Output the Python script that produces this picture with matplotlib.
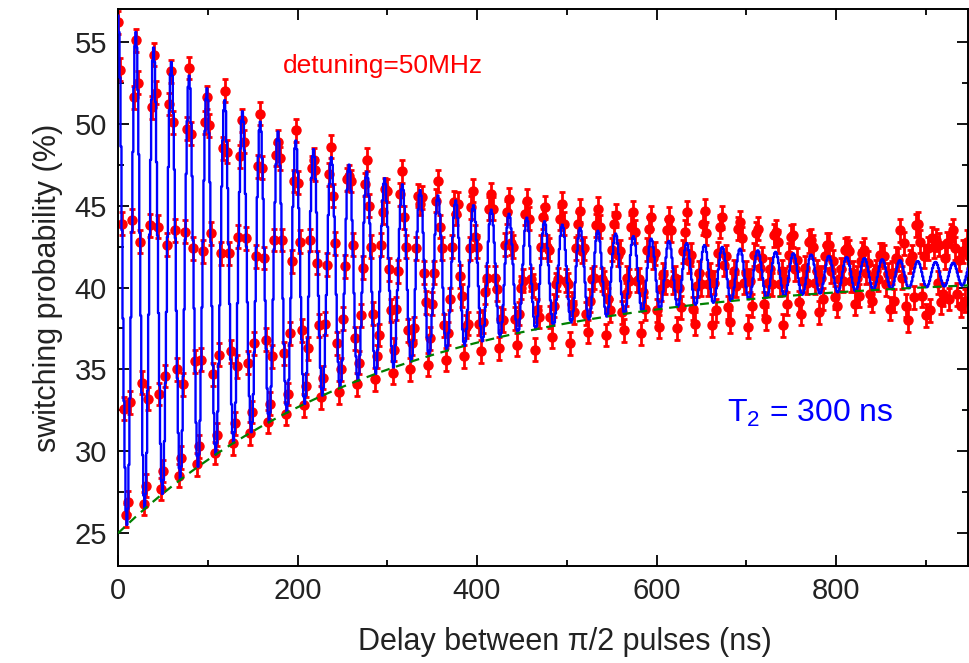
import numpy as np
import matplotlib.pyplot as plt
from matplotlib.ticker import MultipleLocator

# measured switching probability (%), one row per fringe period (9 samples)
switching_prob = [
    56.2, 53.3, 43.9, 32.6, 26.1, 26.9, 33.0, 44.1, 51.6,
    55.1, 52.5, 42.8, 34.2, 26.8, 27.9, 33.2, 43.8, 51.0,
    54.2, 51.9, 43.7, 33.5, 27.7, 28.8, 34.6, 42.6, 51.2,
    53.2, 50.1, 43.5, 35.0, 28.5, 29.6, 34.1, 43.4, 49.7,
    53.4, 49.4, 42.4, 35.5, 29.2, 30.3, 35.6, 42.2, 50.1,
    51.6, 49.9, 43.3, 34.7, 29.9, 31.0, 35.9, 42.1, 48.5,
    52.0, 48.3, 42.1, 36.1, 30.5, 31.7, 35.2, 43.1, 48.0,
    50.2, 48.9, 43.0, 35.4, 31.1, 32.4, 36.6, 41.9, 47.4,
    50.6, 47.3, 41.8, 36.8, 31.8, 32.9, 35.8, 42.9, 48.1,
    48.9, 47.9, 42.9, 36.0, 32.3, 33.5, 37.2, 41.6, 46.5,
    49.6, 46.4, 42.8, 37.4, 32.8, 34.0, 36.3, 42.9, 47.3,
    47.8, 47.2, 41.5, 37.7, 33.3, 34.5, 37.8, 41.4, 46.9,
    48.6, 45.6, 42.7, 36.6, 33.6, 35.0, 38.1, 41.3, 46.6,
    46.8, 46.5, 42.6, 36.9, 34.1, 35.4, 38.3, 41.2, 46.3,
    47.8, 45.0, 42.5, 38.4, 34.4, 35.8, 37.1, 42.6, 44.6,
    46.0, 45.9, 41.1, 38.6, 34.8, 36.2, 38.7, 41.0, 45.7,
    47.1, 44.3, 42.5, 37.4, 35.0, 36.6, 37.5, 42.4, 45.6,
    45.1, 45.5, 40.9, 39.1, 35.3, 36.9, 39.0, 40.9, 45.3,
    46.5, 43.7, 42.4, 37.7, 35.6, 37.2, 39.3, 42.5, 45.2,
    44.5, 45.1, 40.7, 39.5, 35.8, 37.6, 37.8, 42.4, 44.9,
    45.9, 43.1, 42.5, 37.8, 36.1, 37.9, 39.7, 40.6, 44.8,
    45.7, 44.8, 40.6, 39.9, 36.3, 38.1, 38.0, 42.6, 44.6,
    45.4, 42.7, 42.5, 38.1, 36.5, 38.4, 40.0, 40.4, 44.5,
    45.3, 44.2, 40.5, 40.1, 36.2, 38.6, 38.2, 42.5, 44.3,
    44.9, 42.5, 42.3, 38.2, 37.0, 38.9, 40.2, 40.5, 44.2,
    45.1, 43.9, 40.4, 40.2, 36.6, 39.0, 38.5, 42.4, 43.9,
    44.7, 42.2, 42.4, 38.4, 37.3, 39.2, 40.5, 40.6, 43.8,
    44.8, 43.7, 40.5, 40.3, 37.1, 39.3, 38.6, 42.3, 43.9,
    44.4, 42.0, 42.2, 38.5, 37.4, 39.6, 40.6, 40.4, 43.7,
    44.6, 43.4, 40.4, 40.5, 37.2, 39.7, 38.7, 42.3, 43.6,
    44.3, 41.8, 42.1, 38.6, 37.6, 39.9, 40.8, 40.3, 43.5,
    44.2, 43.5, 40.3, 40.6, 37.5, 40.0, 38.8, 42.2, 43.4,
    44.6, 41.6, 42.0, 38.7, 37.8, 40.1, 40.9, 40.2, 43.9,
    44.7, 43.3, 40.2, 40.8, 37.7, 40.3, 38.6, 42.1, 43.7,
    44.3, 41.4, 41.9, 38.8, 37.9, 40.2, 41.0, 40.1, 43.6,
    44.0, 43.0, 40.3, 40.9, 37.6, 40.4, 38.9, 42.0, 43.3,
    43.6, 41.2, 41.8, 39.0, 38.1, 40.3, 41.1, 40.2, 43.2,
    43.4, 42.8, 40.2, 41.0, 37.7, 40.5, 39.0, 42.0, 43.1,
    43.2, 41.1, 41.7, 39.1, 38.4, 40.4, 41.2, 40.3, 42.8,
    42.9, 42.5, 40.3, 41.0, 38.5, 40.6, 39.3, 41.9, 42.6,
    42.6, 41.0, 41.6, 39.4, 38.9, 40.5, 41.1, 40.4, 42.3,
    42.4, 42.2, 40.4, 40.9, 39.0, 40.6, 39.5, 41.6, 42.1,
    42.3, 40.9, 41.5, 39.6, 39.2, 40.7, 41.0, 40.5, 42.0,
    42.0, 41.9, 40.2, 40.8, 38.7, 40.9, 39.2, 41.8, 41.7,
    43.5, 40.6, 42.7, 38.9, 38.0, 41.6, 41.9, 39.4, 43.8,
    43.9, 42.8, 39.5, 41.9, 38.3, 42.4, 38.6, 43.0, 42.5,
    42.9, 40.3, 42.6, 39.1, 39.6, 41.8, 42.7, 39.3, 43.2,
    43.5, 42.4, 39.6, 41.7, 38.9, 42.2, 39.2, 42.8, 41.9,
]
sample_step_ns = 2.2
error_pct = 0.7

# Ramsey fit parameters
fit_offset = 40.8
fit_amplitude = 15.8
fit_t2 = 300.0
fit_period = 19.8

delays = np.arange(len(switching_prob)) * sample_step_ns
fit_t = np.arange(0, 950, 1.1)
fit_curve = fit_offset + fit_amplitude * np.exp(-fit_t / fit_t2) * np.cos(2 * np.pi * fit_t / fit_period)
env_t = np.linspace(0, 950, 300)
envelope = fit_offset - fit_amplitude * np.exp(-env_t / fit_t2)

plt.rcParams['font.family'] = ['Liberation Sans', 'DejaVu Sans']
plt.rcParams['mathtext.fontset'] = 'custom'
plt.rcParams['mathtext.rm'] = 'Liberation Sans'
plt.rcParams['mathtext.default'] = 'regular'

fig = plt.figure(figsize=(9.69, 6.63), dpi=100)
ax = fig.add_axes([0.1218, 0.1463, 0.8772, 0.8401])

ax.errorbar(delays, switching_prob, yerr=error_pct, fmt='o', color='#ff0000',
            ms=6.5, elinewidth=2, capsize=2.5, capthick=2, zorder=2)
ax.plot(fit_t, fit_curve, drawstyle='steps-mid', color='#0000ff', lw=1.7, zorder=3)
ax.plot(env_t, envelope, color='#008000', lw=1.6, dashes=(4, 3), zorder=4)

ax.text(295, 53.5, 'detuning=50MHz', color='#ff0000', fontsize=19, ha='center', va='center')
ax.text(771, 32.3, 'T$_2$ = 300 ns', color='#0000ff', fontsize=23, ha='center', va='center')

ax.set_xlim(0, 947)
ax.set_ylim(23, 57)
ax.xaxis.set_major_locator(MultipleLocator(200))
ax.xaxis.set_minor_locator(MultipleLocator(100))
ax.yaxis.set_major_locator(MultipleLocator(5))
ax.yaxis.set_minor_locator(MultipleLocator(2.5))
ax.tick_params(which='both', direction='in', top=True, right=True, width=1.3,
               labelsize=21, labelcolor='#222222', pad=8)
ax.tick_params(which='major', length=8)
ax.tick_params(which='minor', length=4.5)
for s in ax.spines.values():
    s.set_linewidth(1.4)

ax.set_xlabel('Delay between π/2 pulses (ns)', fontsize=22, color='#222222', labelpad=8)
ax.xaxis.set_label_coords(0.526, -0.11)
ax.set_ylabel('switching probability (%)', fontsize=22, color='#222222', labelpad=8)

plt.savefig('out.png', dpi=100)
